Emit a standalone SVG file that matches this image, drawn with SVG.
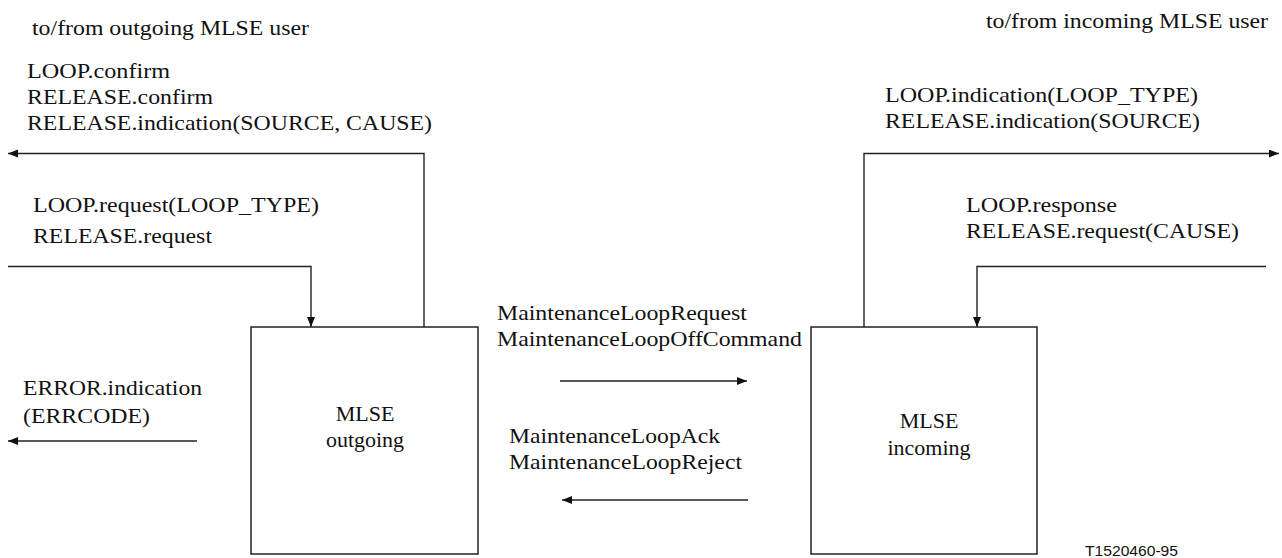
<svg xmlns="http://www.w3.org/2000/svg" width="1282" height="558" viewBox="0 0 1282 558">
<style>
.ln{fill:none;stroke:#222;stroke-width:1.4}
.box{fill:#fff;stroke:#222;stroke-width:1.5}
</style>
<defs>
<marker id="ah" markerUnits="userSpaceOnUse" markerWidth="12" markerHeight="10" refX="10" refY="4" orient="auto">
<path d="M0,0 L10,4 L0,8 Z" fill="#111"/>
</marker>
</defs>
<rect width="1282" height="558" fill="#fff"/>
<g id="labels" fill="#111">
<text font-family="Liberation Serif" font-size="22" x="32" y="35" textLength="277" lengthAdjust="spacingAndGlyphs">to/from outgoing MLSE user</text>
<text font-family="Liberation Serif" font-size="22" x="986" y="28" textLength="282" lengthAdjust="spacingAndGlyphs">to/from incoming MLSE user</text>
<text font-family="Liberation Serif" font-size="22" x="27" y="78" textLength="143" lengthAdjust="spacingAndGlyphs">LOOP.confirm</text>
<text font-family="Liberation Serif" font-size="22" x="27" y="104" textLength="186" lengthAdjust="spacingAndGlyphs">RELEASE.confirm</text>
<text font-family="Liberation Serif" font-size="22" x="27" y="130" textLength="405" lengthAdjust="spacingAndGlyphs">RELEASE.indication(SOURCE, CAUSE)</text>
<text font-family="Liberation Serif" font-size="22" x="33" y="212" textLength="286" lengthAdjust="spacingAndGlyphs">LOOP.request(LOOP_TYPE)</text>
<text font-family="Liberation Serif" font-size="22" x="33" y="243" textLength="179" lengthAdjust="spacingAndGlyphs">RELEASE.request</text>
<text font-family="Liberation Serif" font-size="22" x="885" y="102" textLength="313" lengthAdjust="spacingAndGlyphs">LOOP.indication(LOOP_TYPE)</text>
<text font-family="Liberation Serif" font-size="22" x="885" y="128" textLength="315" lengthAdjust="spacingAndGlyphs">RELEASE.indication(SOURCE)</text>
<text font-family="Liberation Serif" font-size="22" x="966" y="212" textLength="151" lengthAdjust="spacingAndGlyphs">LOOP.response</text>
<text font-family="Liberation Serif" font-size="22" x="966" y="238" textLength="273" lengthAdjust="spacingAndGlyphs">RELEASE.request(CAUSE)</text>
<text font-family="Liberation Serif" font-size="22" x="497" y="320" textLength="250" lengthAdjust="spacingAndGlyphs">MaintenanceLoopRequest</text>
<text font-family="Liberation Serif" font-size="22" x="497" y="346" textLength="305" lengthAdjust="spacingAndGlyphs">MaintenanceLoopOffCommand</text>
<text font-family="Liberation Serif" font-size="22" x="509" y="443" textLength="211" lengthAdjust="spacingAndGlyphs">MaintenanceLoopAck</text>
<text font-family="Liberation Serif" font-size="22" x="509" y="469" textLength="233" lengthAdjust="spacingAndGlyphs">MaintenanceLoopReject</text>
<text font-family="Liberation Serif" font-size="22" x="23" y="395" textLength="179" lengthAdjust="spacingAndGlyphs">ERROR.indication</text>
<text font-family="Liberation Serif" font-size="22" x="23" y="423" textLength="127" lengthAdjust="spacingAndGlyphs">(ERRCODE)</text>
<text font-family="Liberation Sans" font-size="15" x="1085" y="556" textLength="93" lengthAdjust="spacingAndGlyphs">T1520460-95</text>
</g>
<g id="connectors">
<polyline class="ln" points="424,327 424,153.5 8,153.5" marker-end="url(#ah)"/>
<polyline class="ln" points="8,266.5 311,266.5 311,327" marker-end="url(#ah)"/>
<polyline class="ln" points="864,327 864,153.5 1279,153.5" marker-end="url(#ah)"/>
<polyline class="ln" points="1266,266.5 977,266.5 977,327" marker-end="url(#ah)"/>
<line class="ln" x1="560" y1="381" x2="747" y2="381" marker-end="url(#ah)"/>
<line class="ln" x1="748" y1="500" x2="562" y2="500" marker-end="url(#ah)"/>
<line class="ln" x1="197" y1="441" x2="8" y2="441" marker-end="url(#ah)"/>
</g>
<g id="mlse-outgoing" fill="#111">
<rect class="box" x="251" y="327" width="227" height="227"/>
<text font-family="Liberation Serif" font-size="22" text-anchor="middle" x="365" y="421">MLSE</text>
<text font-family="Liberation Serif" font-size="22" text-anchor="middle" x="365" y="447">outgoing</text>
</g>
<g id="mlse-incoming" fill="#111">
<rect class="box" x="811" y="327" width="226" height="227"/>
<text font-family="Liberation Serif" font-size="22" text-anchor="middle" x="929" y="428">MLSE</text>
<text font-family="Liberation Serif" font-size="22" text-anchor="middle" x="929" y="455">incoming</text>
</g>
</svg>
